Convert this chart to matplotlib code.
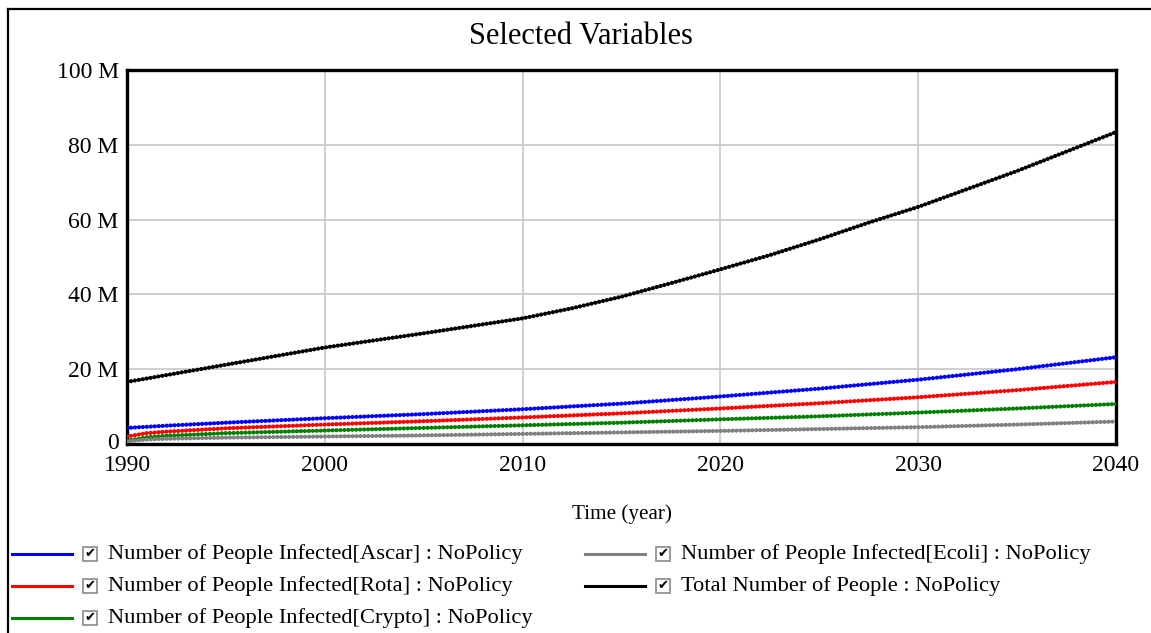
import matplotlib
matplotlib.use("Agg")
import matplotlib.pyplot as plt
from matplotlib.lines import Line2D
from matplotlib.patches import Rectangle
from matplotlib.ticker import FuncFormatter
import matplotlib.transforms as mtransforms

plt.rcParams['font.family'] = ['Liberation Serif', 'DejaVu Serif']

years = [1990, 1991, 1992, 1995, 2000, 2005, 2010, 2015, 2020, 2025, 2030, 2035, 2040]
ascar = [4.3, 4.6, 4.9, 5.7, 6.9, 8.0, 9.3, 10.8, 12.7, 14.8, 17.2, 20.0, 23.2]
rota = [2.0, 2.9, 3.3, 4.2, 5.2, 6.1, 7.1, 8.2, 9.5, 10.9, 12.5, 14.4, 16.6]
crypto = [0.9, 1.8, 2.2, 2.9, 3.6, 4.3, 5.0, 5.7, 6.6, 7.4, 8.4, 9.5, 10.7]
ecoli = [0.7, 1.2, 1.4, 1.7, 2.0, 2.3, 2.7, 3.1, 3.5, 4.0, 4.5, 5.2, 6.0]

total_years = [1990, 1995, 2000, 2005, 2010, 2012.5, 2015, 2017.5, 2020, 2022.5,
               2025, 2027.5, 2030, 2035, 2040]
total = [16.6, 21.2, 25.8, 29.6, 33.6, 36.3, 39.4, 43.0, 46.7, 50.5,
         54.7, 59.2, 63.4, 73.0, 83.4]

labels = ["Number of People Infected[Ascar] : NoPolicy",
          "Number of People Infected[Rota] : NoPolicy",
          "Number of People Infected[Crypto] : NoPolicy",
          "Number of People Infected[Ecoli] : NoPolicy",
          "Total Number of People : NoPolicy"]
series = [(years, ascar), (years, rota), (years, crypto), (years, ecoli), (total_years, total)]
colors = ["#0000ff", "#ff0000", "#008000", "#808080", "#000000"]

W, H = 1151, 633
fig = plt.figure(figsize=(W / 100, H / 100), dpi=100)
ax = fig.add_axes([127 / W, 1 - 444 / H, (1116 - 127) / W, (444 - 70) / H])

for (xs, vals), c in zip(series, colors):
    ax.plot(xs, [v * 1e6 for v in vals], color=c, lw=3.0,
            linestyle=(0, (0.05, 0.9)), dash_capstyle='round',
            solid_capstyle='round', zorder=3)

ax.set_xlim(1990, 2040)
ax.set_ylim(0, 100e6)
ax.set_xticks([1990, 2000, 2010, 2020, 2030, 2040])
ax.set_yticks([0, 20e6, 40e6, 60e6, 80e6, 100e6])
ax.yaxis.set_major_formatter(FuncFormatter(lambda v, p: "0" if v == 0 else f"{int(round(v / 1e6))} M"))
ax.grid(True, color="#cccccc", lw=1.3)
ax.set_axisbelow(True)
ax.tick_params(length=0, labelsize=17)
ax.tick_params(axis='y', pad=6)
ax.tick_params(axis='x', pad=8)
for s in ax.spines.values():
    s.set_linewidth(2.4)
    s.set_color("black")
ax.set_xlabel("Time (year)", fontsize=15.2, labelpad=20)
fig.text(581 / W, 1 - 36 / H, "Selected Variables", ha='center', va='center', fontsize=22)

# raise the "0" label slightly as in the reference
fig.canvas.draw()
ylabs = ax.get_yticklabels()
ylabs[0].set_transform(ylabs[0].get_transform() +
                       mtransforms.ScaledTranslation(0, 3 / 100, fig.dpi_scale_trans))

# outer frame (top and left)
fig.add_artist(Line2D([8 / W, 1.0], [1 - 9 / H, 1 - 9 / H], color='black', lw=1.6))
fig.add_artist(Line2D([8 / W, 8 / W], [1 - 9 / H, 0.0], color='black', lw=1.6))

# legend
pos = [(12, 554), (12, 586), (12, 618), (585, 554), (585, 586)]
for (x0, y0), lab, c in zip(pos, labels, colors):
    yf = 1 - y0 / H
    fig.add_artist(Line2D([x0 / W, (x0 + 60) / W], [yf, yf], color=c, lw=2.2))
    bx = x0 + 71
    fig.add_artist(Rectangle((bx / W, 1 - (y0 + 7) / H), 14 / W, 14 / H,
                             transform=fig.transFigure, facecolor='white',
                             edgecolor='#8a8a8a', lw=1.2))
    fig.text((bx + 7) / W, yf, "\u2714", ha='center', va='center', fontsize=9.5,
             family='DejaVu Sans', color='black')
    fig.text((x0 + 96) / W, yf, lab, ha='left', va='center', fontsize=16.2)

fig.savefig("out.png", dpi=100)
